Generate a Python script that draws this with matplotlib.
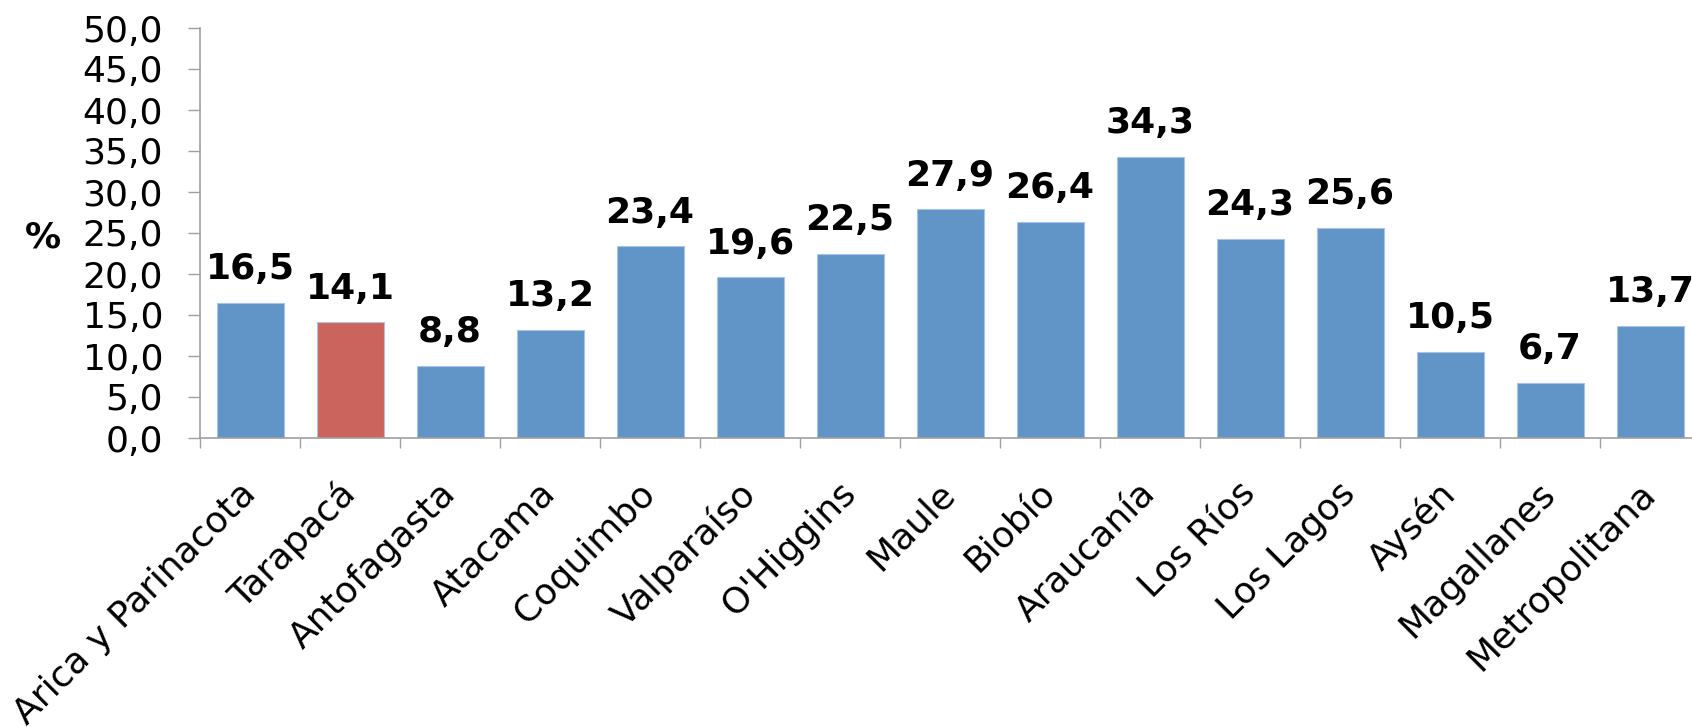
"""Bar chart by region, percent values."""
import matplotlib
matplotlib.use("Agg")
import matplotlib.pyplot as plt
import numpy as np

REGIONS = [
    "Arica y Parinacota", "Tarapacá", "Antofagasta", "Atacama", "Coquimbo",
    "Valparaíso", "O'Higgins", "Maule", "Biobío", "Araucanía", "Los Ríos",
    "Los Lagos", "Aysén", "Magallanes", "Metropolitana",
]
VALUES = [16.5, 14.1, 8.8, 13.2, 23.4, 19.6, 22.5, 27.9, 26.4, 34.3,
          24.3, 25.6, 10.5, 6.7, 13.7]
HIGHLIGHT = "Tarapacá"

BLUE = "#6195C8"
RED = "#CC645E"
GREY = "#A0A0A0"
FS = 26


def fmt(v):
    return f"{v:.1f}".replace(".", ",")


def main():
    W, H = 1692, 727
    fig = plt.figure(figsize=(W / 100, H / 100), dpi=100)
    left, right = 200, 1700
    top, bottom = 28, 438
    ax = fig.add_axes([left / W, 1 - bottom / H, (right - left) / W, (bottom - top) / H])

    x = np.arange(len(REGIONS))
    colors = [RED if r == HIGHLIGHT else BLUE for r in REGIONS]
    ax.bar(x, VALUES, 0.67, color=colors, edgecolor="#A9C4E2", linewidth=0.8)

    for i, v in enumerate(VALUES):
        ax.annotate(fmt(v), (i, v), xytext=(0, 17), textcoords="offset points",
                    ha="center", va="baseline", fontsize=FS, fontweight="bold")

    ax.set_xlim(-0.5, len(REGIONS) - 0.5)
    ax.set_ylim(0, 50)
    ax.set_yticks(np.arange(0, 50.1, 5))
    ax.set_yticklabels([fmt(t) for t in np.arange(0, 50.1, 5)], fontsize=FS)
    ax.tick_params(axis="y", direction="out", length=8.6, width=1, color=GREY, pad=18)

    ax.set_xticks(x)
    ax.set_xticklabels(REGIONS, fontsize=FS, rotation=45, ha="right",
                       rotation_mode="anchor", va="center")
    ax.tick_params(axis="x", which="major", length=0, pad=36)
    ax.set_xticks(np.arange(-0.5, len(REGIONS), 1), minor=True)
    ax.tick_params(axis="x", which="minor", direction="out", length=7, width=1, color=GREY)

    for s in ["top", "right"]:
        ax.spines[s].set_visible(False)
    for s in ["left", "bottom"]:
        ax.spines[s].set_color(GREY)
        ax.spines[s].set_linewidth(1.2)

    fig.text(43 / W, 1 - 237 / H, "%", fontsize=FS, fontweight="bold",
             ha="center", va="center")

    fig.savefig("out.png", dpi=100)
    plt.close(fig)


if __name__ == "__main__":
    main()
